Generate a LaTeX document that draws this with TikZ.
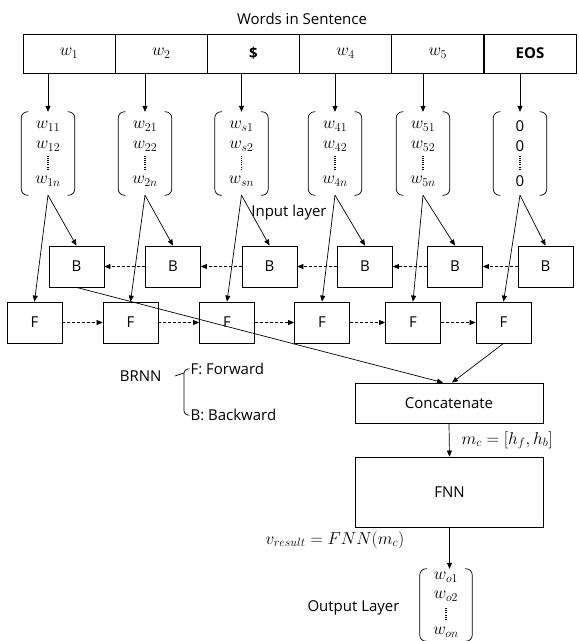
\documentclass[tikz,border=0pt]{standalone}
\usepackage{fontspec}
\setmainfont{Open Sans}
\usepackage{amsmath}
\usetikzlibrary{arrows.meta,calc}
\newcommand{\vbr}[1]{%
 \draw[plain, rounded corners=6pt] ([xshift=7pt]#1.north west) -- (#1.north west) -- (#1.south west) -- ([xshift=7pt]#1.south west);
 \draw[plain, rounded corners=6pt] ([xshift=-7pt]#1.north east) -- (#1.north east) -- (#1.south east) -- ([xshift=-7pt]#1.south east);}
\newcommand{\vdl}[3]{\draw[vdot] ($(#1.center)+(0,#2)$) -- ($(#1.center)+(0,#3)$);}
\newcommand{\ventries}[3]{#1\\[0pt]#2\\[15pt]#3}
\begin{document}
\begin{tikzpicture}[x=1pt,y=-1pt,
  every node/.style={font=\fontsize{15}{18}\selectfont},
  box/.style={draw, line width=0.8pt, minimum width=55pt, minimum height=41pt, inner sep=0pt},
  cell/.style={draw, line width=0.8pt, minimum width=92.17pt, minimum height=39pt, inner sep=0pt},
  cellm/.style={cell, font=\fontsize{18}{20}\selectfont},
  vec/.style={minimum width=53pt, minimum height=83pt, inner sep=0pt, align=center, font=\fontsize{17}{20}\selectfont},
  mlabel/.style={font=\fontsize{16.5}{20}\selectfont},
  arr/.style={line width=0.7pt, -{Triangle[length=6pt,width=5pt]}},
  darr/.style={arr, dash pattern=on 3pt off 2pt},
  plain/.style={line width=0.7pt},
  vdot/.style={line width=1.1pt, dash pattern=on 0.9pt off 1.3pt},
]
\useasboundingbox (0,0) rectangle (579,641);
\node (title) at (302,18.5) {Words in Sentence};
\node[cellm] (c1) at (69.1,53.5) {$w_1$};
\node[cellm] (c2) at (161.3,53.5) {$w_2$};
\node[cell] (c3) at (253.4,53.5) {\textbf{\$}};
\node[cellm] (c4) at (345.6,53.5) {$w_4$};
\node[cellm] (c5) at (437.8,53.5) {$w_5$};
\node[cell] (c6) at (530,53.5) {\textbf{EOS}};

\node[vec] (v1) at (48,153.5) {\ventries{$w_{11}$}{$w_{12}$}{$w_{1n}$}};
\node[vec] (v2) at (145,153.5) {\ventries{$w_{21}$}{$w_{22}$}{$w_{2n}$}};
\node[vec] (v3) at (241.5,153.5) {\ventries{$w_{s1}$}{$w_{s2}$}{$w_{sn}$}};
\node[vec] (v4) at (335,153.5) {\ventries{$w_{41}$}{$w_{42}$}{$w_{4n}$}};
\node[vec] (v5) at (423,153.5) {\ventries{$w_{51}$}{$w_{52}$}{$w_{5n}$}};
\node[vec, font=\fontsize{15}{20}\selectfont] (v6) at (520,153.5) {\ventries{0}{0}{0}};
\foreach \v in {v1,v2,v3,v4,v5,v6} {\vbr{\v}}
\vdl{v1}{2}{17}
\vdl{v2}{2}{17}
\vdl{v3}{2}{17}
\vdl{v4}{2}{17}
\vdl{v5}{2}{17}
\vdl{v6}{2}{17}
\foreach \i in {1,...,6} {\draw[arr] (v\i.north |- c\i.south) -- (v\i.north);}

\node (inl) at (289,213) {Input layer};

\node[box] (b1) at (76.5,266.5) {B};
\node[box] (b2) at (173,266.5) {B};
\node[box] (b3) at (269.5,266.5) {B};
\node[box] (b4) at (365,266.5) {B};
\node[box] (b5) at (455,266.5) {B};
\node[box] (b6) at (545.5,266.5) {B};
\node[box] (f1) at (34.5,322.5) {F};
\node[box] (f2) at (130.5,322.5) {F};
\node[box] (f3) at (227,322.5) {F};
\node[box] (f4) at (322,322.5) {F};
\node[box] (f5) at (413,322.5) {F};
\node[box] (f6) at (503.5,322.5) {F};
\foreach \i in {1,...,6} {
  \draw[arr] (v\i.south) -- (b\i.north);
  \draw[arr] (v\i.south) -- (f\i.north);
}
\foreach \i/\j in {1/2,2/3,3/4,4/5,5/6} {
  \draw[darr] (b\j.west) -- (b\i.east);
  \draw[darr] (f\i.east) -- (f\j.west);
}

\node[draw, line width=0.8pt, minimum width=188pt, minimum height=40pt] (cat) at (449,403) {Concatenate};
\node[draw, line width=0.8pt, minimum width=188pt, minimum height=70pt] (fnn) at (449.5,492) {FNN};
\draw[arr] (b1.south) -- ($(cat.north)+(-6,0)$);
\draw[arr] (f6.south) -- ($(cat.north)+(3,0)$);
\draw[arr] (cat.south) -- (fnn.north);
\node[mlabel, anchor=west] (mc) at (458,440) {$m_c=[h_f,h_b]$};

\node[minimum width=52pt, minimum height=72pt, inner sep=0pt, align=center, font=\fontsize{17}{20}\selectfont] (out) at (446,605)
  {$w_{o1}$\\[-1pt]$w_{o2}$\\[16pt]$w_{on}$};
\vbr{out}
\vdl{out}{3}{16}
\draw[arr] (fnn.south) -- (fnn.south |- out.north);
\node[mlabel] (vres) at (335,540) {$v_{result}=FNN(m_c)$};
\node (outl) at (353.5,608) {Output Layer};

\node[anchor=east] (brnn) at (165,376) {BRNN};
\node[anchor=west] (fwd) at (187,369) {F: Forward};
\node[anchor=west] (bwd) at (187,415) {B: Backward};
\draw[plain, rounded corners=4pt] (fwd.west) -- ++(-3,0) |- (bwd.west);
\draw[plain] ($(fwd.west)+(-12,7)$) -- ($(fwd.west)+(-3,4)$);
\end{tikzpicture}
\end{document}
